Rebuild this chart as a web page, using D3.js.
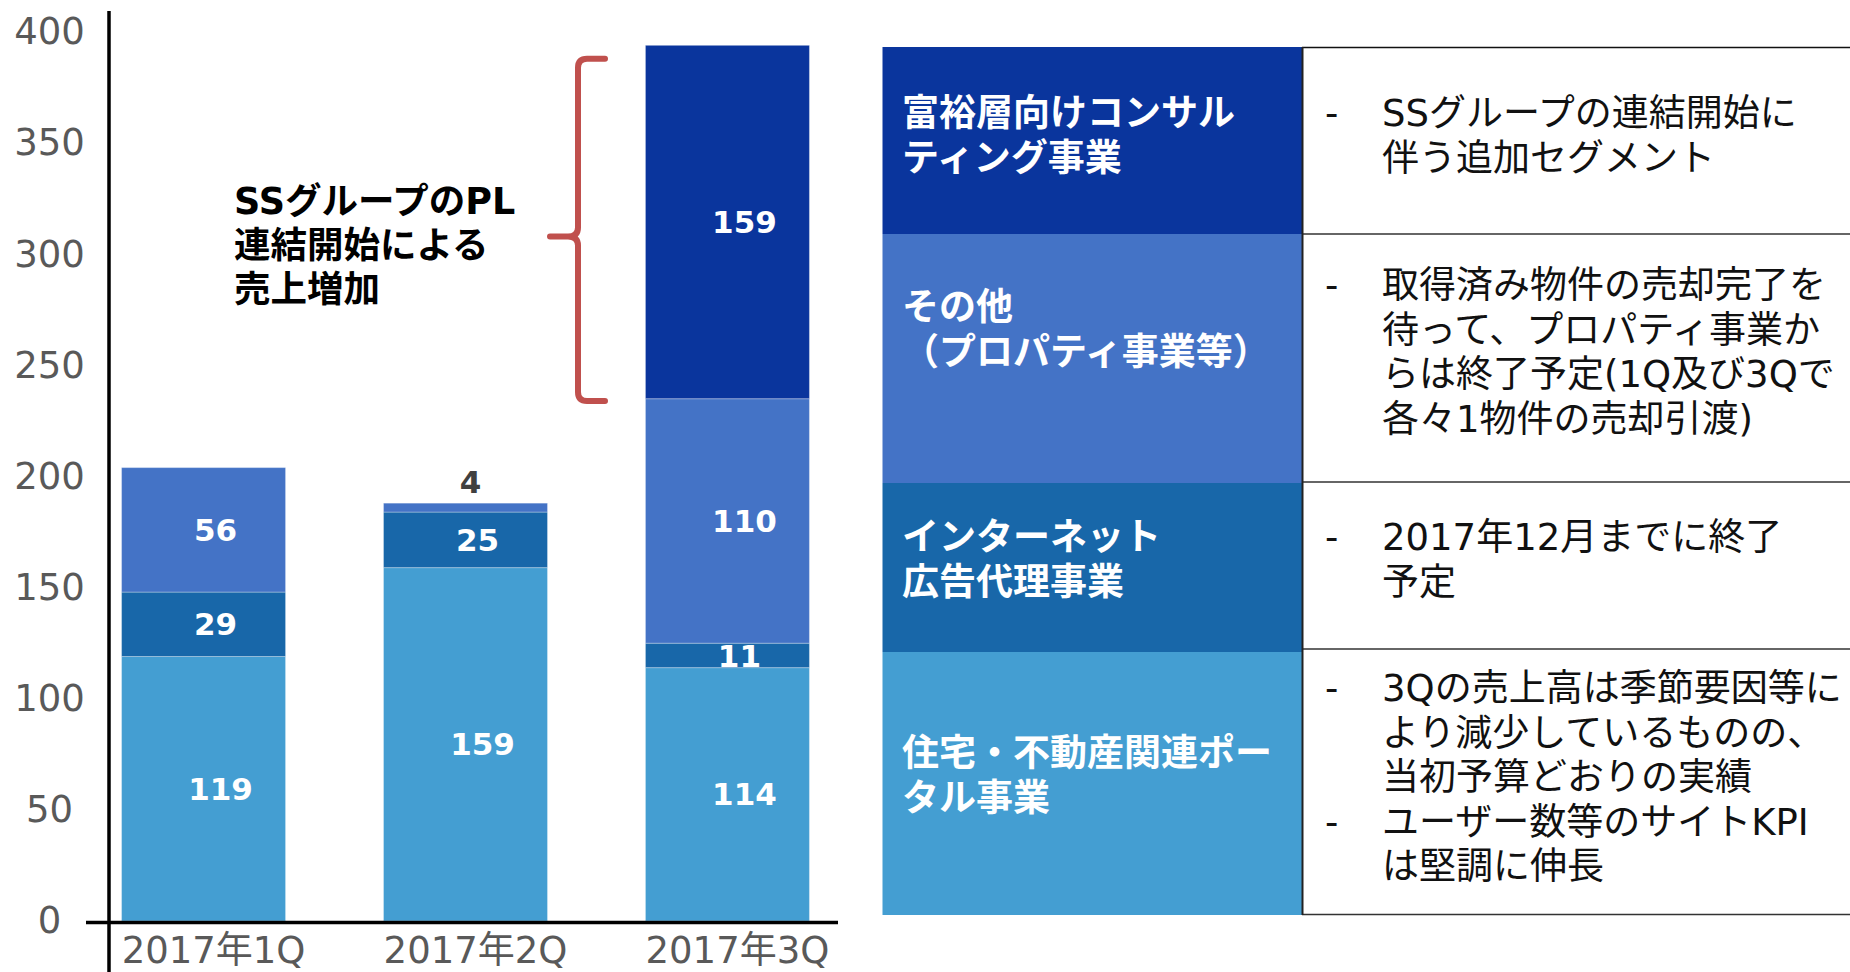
<!DOCTYPE html>
<html>
<head>
<meta charset="utf-8">
<script src="https://cdn.jsdelivr.net/npm/d3@7"></script>
<style>
  body { margin: 0; background: #fff; }
</style>
</head>
<body>
<script>
// quarterly sales by segment
let categories = ["2017年1Q", "2017年2Q", "2017年3Q"];
let seriesKeys = ["portal", "ad", "other", "wealth"];
let portalValues = [119, 159, 114];
let adValues = [29, 25, 11];
let otherValues = [56, 4, 110];
let wealthValues = [0, 0, 159];
let yTicks = [0, 50, 100, 150, 200, 250, 300, 350, 400];

// right side table (top to bottom)
let tableKeys = ["wealth", "other", "ad", "portal"];
let tableNames = [
  ["富裕層向けコンサル", "ティング事業"],
  ["その他", "（プロパティ事業等）"],
  ["インターネット", "広告代理事業"],
  ["住宅・不動産関連ポー", "タル事業"]
];
let tableNotes = [
  [["SSグループの連結開始に", "伴う追加セグメント"]],
  [["取得済み物件の売却完了を", "待って、プロパティ事業か", "らは終了予定(1Q及び3Qで", "各々1物件の売却引渡)"]],
  [["2017年12月までに終了", "予定"]],
  [["3Qの売上高は季節要因等に", "より減少しているものの、", "当初予算どおりの実績"], ["ユーザー数等のサイトKPI", "は堅調に伸長"]]
];
let annotationLines = ["SSグループのPL", "連結開始による", "売上増加"];

let colors = {
  portal: "#449ed2",
  ad: "#1867a9",
  other: "#4473c6",
  wealth: "#0a359d"
};

let svg = d3.select("body").append("svg")
  .attr("width", 1850)
  .attr("height", 972);

let numFont = "'DejaVu Sans', 'Noto Sans CJK JP', sans-serif";

// scales
let yScale = d3.scaleLinear().domain([0, 400]).range([921, 32]);
let xScale = d3.scaleBand()
  .domain(categories)
  .range([109, 822])
  .paddingInner(0.374)
  .paddingOuter(0.048);

let data = categories.map((c, i) => ({
  cat: c,
  portal: portalValues[i],
  ad: adValues[i],
  other: otherValues[i],
  wealth: wealthValues[i]
}));
let stacked = d3.stack().keys(seriesKeys)(data);

// bars
let series = svg.append("g").selectAll("g.series")
  .data(stacked, d => d.key)
  .join("g")
  .classed("series", true)
  .style("fill", d => colors[d.key]);

series.selectAll("rect")
  .data(d => d.filter(p => p[1] - p[0] > 0))
  .join("rect")
  .attr("x", d => xScale(d.data.cat))
  .attr("y", d => yScale(d[1]))
  .attr("width", xScale.bandwidth())
  .attr("height", d => yScale(d[0]) - yScale(d[1]))
  .attr("stroke", "#ffffff")
  .attr("stroke-opacity", 0.3)
  .attr("stroke-width", 1);

// value labels
let labelData = [];
stacked.forEach(s => s.forEach(p => {
  let v = p[1] - p[0];
  if (v > 0) labelData.push({ v: v, p: p });
}));
svg.append("g").selectAll("text")
  .data(labelData)
  .join("text")
  .text(d => d.v)
  .attr("x", d => {
    let c = xScale(d.p.data.cat) + xScale.bandwidth() / 2;
    if (d.v < 8) return c + 5;
    return c + (String(d.v).length === 3 ? 17 : 12);
  })
  .attr("y", d => d.v < 8 ? yScale(d.p[1]) - 10 : yScale((d.p[0] + d.p[1]) / 2))
  .attr("dy", d => d.v < 8 ? null : "0.36em")
  .attr("text-anchor", "middle")
  .attr("font-family", numFont)
  .attr("font-weight", "bold")
  .attr("font-size", 31)
  .attr("fill", d => d.v < 8 ? "#404040" : "#ffffff");

// y axis (labels only, line drawn separately)
let yAxisG = svg.append("g").call(d3.axisLeft(yScale).tickValues(yTicks).tickSize(0));
yAxisG.select(".domain").remove();
yAxisG.selectAll("text")
  .attr("x", 49.5)
  .attr("text-anchor", "middle")
  .attr("font-family", numFont)
  .attr("font-size", 37)
  .attr("fill", "#595959");

// x axis
let xAxisG = svg.append("g")
  .attr("transform", `translate(0, ${yScale(0)})`)
  .call(d3.axisBottom(xScale).tickSize(0));
xAxisG.select(".domain").remove();
xAxisG.selectAll("text")
  .attr("x", 10)
  .attr("y", 42)
  .attr("dy", null)
  .attr("font-family", numFont)
  .attr("font-size", 37)
  .attr("fill", "#595959");

svg.append("line")
  .attr("x1", 109).attr("x2", 109)
  .attr("y1", 11).attr("y2", 972)
  .attr("stroke", "#000").attr("stroke-width", 3.5);
svg.append("line")
  .attr("x1", 86).attr("x2", 838)
  .attr("y1", yScale(0) + 1.5).attr("y2", yScale(0) + 1.5)
  .attr("stroke", "#000").attr("stroke-width", 3.5);

// brace for the new segment
let bTop = yScale(388), bBot = yScale(234), bMid = yScale(308);
let bx = 578, bEnd = 605, bTip = 550;
svg.append("path")
  .attr("d", `M${bEnd},${bTop} L${bx + 9},${bTop} Q${bx},${bTop} ${bx},${bTop + 9}
    L${bx},${bMid - 9} Q${bx},${bMid} ${bx - 10},${bMid} L${bTip},${bMid}
    M${bx - 10},${bMid} Q${bx},${bMid} ${bx},${bMid + 9}
    L${bx},${bBot - 9} Q${bx},${bBot} ${bx + 9},${bBot} L${bEnd},${bBot}`)
  .attr("fill", "none")
  .attr("stroke", "#c0504d")
  .attr("stroke-width", 6)
  .attr("stroke-linecap", "round")
  .attr("stroke-linejoin", "round");

// multi-line text helper: one <text>, one <tspan> per line
function multiText(parent, lines, x, y, lh) {
  let t = parent.append("text").attr("x", x).attr("y", y);
  lines.forEach((l, i) => {
    t.append("tspan").text(l).attr("x", x).attr("y", y + i * lh);
  });
  return t;
}

multiText(svg, annotationLines, 234, 214, 44)
  .attr("font-family", numFont)
  .attr("font-weight", "bold")
  .attr("font-size", 36.5)
  .attr("fill", "#000");

// table
let rowEdges = [47, 234, 483, 652, 915];
let leftX = 882.5, midX = 1302, rightX = 1850;
let leftFirst = [126, 320, 550, 766];
let rightFirst = [126, 298, 550, 701];
let lineH = 44.5;

let table = svg.append("g");
tableKeys.forEach((k, i) => {
  table.append("rect")
    .attr("x", leftX).attr("y", rowEdges[i])
    .attr("width", midX - leftX).attr("height", rowEdges[i + 1] - rowEdges[i])
    .attr("fill", colors[k]);
  multiText(table, tableNames[i], 902, leftFirst[i], lineH)
    .attr("font-family", numFont)
    .attr("font-weight", "bold")
    .attr("font-size", 37)
    .attr("fill", "#fff");

  let line = 0;
  let dashes = [];
  let noteLines = [];
  tableNotes[i].forEach(bullet => {
    dashes.push(line);
    bullet.forEach(t => { noteLines.push(t); line++; });
  });
  let notes = table.append("g")
    .attr("font-family", numFont)
    .attr("font-size", 37)
    .attr("fill", "#111");
  dashes.forEach(n => {
    notes.append("text").text("-")
      .attr("x", 1325).attr("y", rightFirst[i] + n * lineH);
  });
  multiText(notes, noteLines, 1382, rightFirst[i], lineH);
});

// table lines
let sepY = [234, 482, 649];
table.selectAll("line.sep")
  .data(sepY)
  .join("line")
  .attr("x1", midX).attr("x2", rightX)
  .attr("y1", d => d).attr("y2", d => d)
  .attr("stroke", "#666").attr("stroke-width", 2);
table.append("line")
  .attr("x1", midX).attr("x2", rightX).attr("y1", 47.5).attr("y2", 47.5)
  .attr("stroke", "#111").attr("stroke-width", 1.5);
table.append("line")
  .attr("x1", midX).attr("x2", rightX).attr("y1", 914.5).attr("y2", 914.5)
  .attr("stroke", "#333").attr("stroke-width", 1.5);
table.append("line")
  .attr("x1", midX + 0.5).attr("x2", midX + 0.5).attr("y1", 47).attr("y2", 915)
  .attr("stroke", "#222").attr("stroke-width", 2);
</script>
</body>
</html>
